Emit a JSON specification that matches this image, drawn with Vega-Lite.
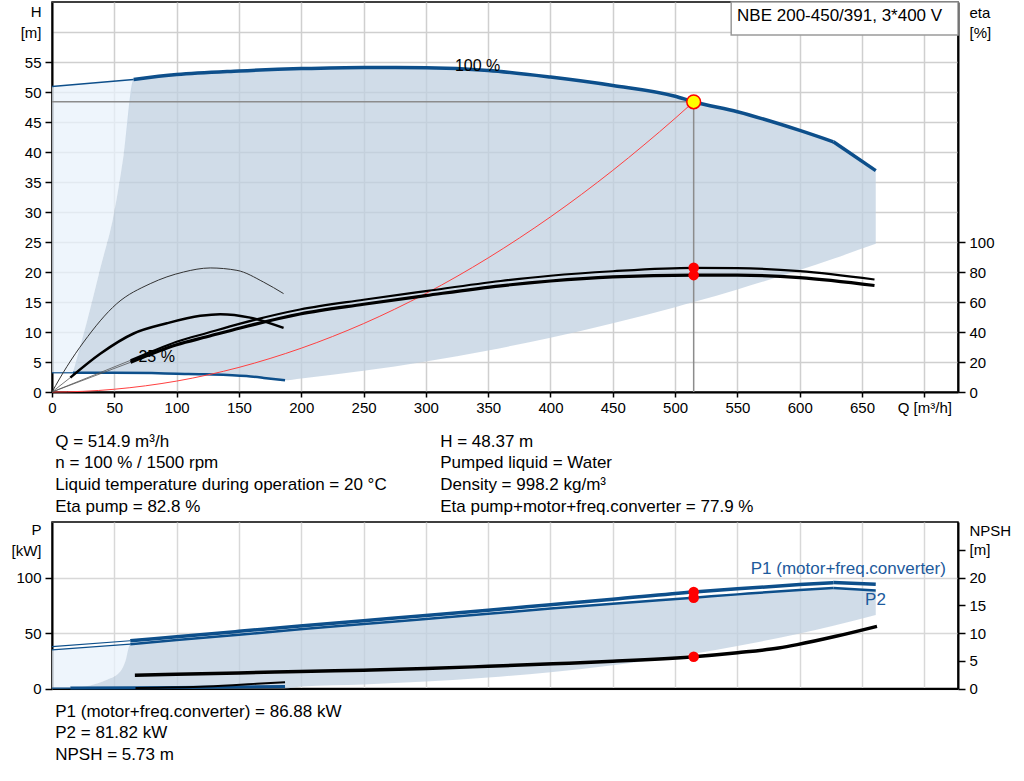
{
  "$schema": "https://vega.github.io/schema/vega-lite/v6.json",
  "padding": {"left": 10, "top": 0, "right": 0, "bottom": 0},
  "autosize": {"type": "pad"},
  "background": "white",
  "bounds": "flush",
  "spacing": 130,
  "config": {
    "font": "Liberation Sans",
    "view": {"stroke": "#000000", "strokeWidth": 1.5},
    "axis": {"labelFont": "Liberation Sans", "labelFontSize": 15, "labelColor": "#000000", "domainColor": "#000000", "domainWidth": 2, "tickColor": "#000000", "tickWidth": 1.5, "gridColor": "#cfcfcf", "gridWidth": 1.5, "title": null, "labelOverlap": false, "labelFlush": false},
    "text": {"font": "Liberation Sans"}
  },
  "datasets": {
    "hLight": [
      {"q": 0, "top": 50.9, "bot": 3.2},
      {"q": 16.8, "top": 51.2, "bot": 3.2},
      {"q": 28, "top": 51.4, "bot": 11.7},
      {"q": 38.7, "top": 51.6, "bot": 20.6},
      {"q": 49.4, "top": 51.8, "bot": 29.4},
      {"q": 57.4, "top": 51.95, "bot": 39.4},
      {"q": 65.5, "top": 52.1, "bot": 52.1}
    ],
    "hArea": [
      {"q": 16.8, "top": 3.2, "bot": 3.2},
      {"q": 28, "top": 11.7, "bot": 3.2},
      {"q": 38.7, "top": 20.6, "bot": 3.2},
      {"q": 49.4, "top": 29.4, "bot": 3.2},
      {"q": 57.4, "top": 39.4, "bot": 3.2},
      {"q": 65.5, "top": 52.1, "bot": 3.2},
      {"q": 100, "top": 52.9, "bot": 3.05},
      {"q": 124, "top": 53.25, "bot": 2.95},
      {"q": 156, "top": 53.55, "bot": 2.65},
      {"q": 170, "top": 53.7, "bot": 2.35},
      {"q": 186, "top": 53.8, "bot": 1.95},
      {"q": 200, "top": 53.9, "bot": 2.26},
      {"q": 250, "top": 54.1, "bot": 3.53},
      {"q": 300, "top": 54.05, "bot": 5.09},
      {"q": 350, "top": 53.6, "bot": 6.92},
      {"q": 400, "top": 52.5, "bot": 9.04},
      {"q": 450, "top": 51.1, "bot": 11.44},
      {"q": 500, "top": 49.3, "bot": 14.13},
      {"q": 514.9, "top": 48.37, "bot": 14.98},
      {"q": 550, "top": 46.7, "bot": 17.09},
      {"q": 600, "top": 43.6, "bot": 20.34},
      {"q": 627, "top": 41.7, "bot": 22.21},
      {"q": 661, "top": 36.9, "bot": 24.69}
    ],
    "hLines": [
      {"s": "h100thin", "q": 0, "h": 50.9},
      {"s": "h100thin", "q": 65.5, "h": 52.1},
      {"s": "h100", "q": 65.5, "h": 52.1},
      {"s": "h100", "q": 100, "h": 52.9},
      {"s": "h100", "q": 150, "h": 53.5},
      {"s": "h100", "q": 200, "h": 53.9},
      {"s": "h100", "q": 250, "h": 54.1},
      {"s": "h100", "q": 300, "h": 54.05},
      {"s": "h100", "q": 350, "h": 53.6},
      {"s": "h100", "q": 400, "h": 52.5},
      {"s": "h100", "q": 450, "h": 51.1},
      {"s": "h100", "q": 500, "h": 49.3},
      {"s": "h100", "q": 514.9, "h": 48.37},
      {"s": "h100", "q": 550, "h": 46.7},
      {"s": "h100", "q": 600, "h": 43.6},
      {"s": "h100", "q": 627, "h": 41.7},
      {"s": "h100end", "q": 627, "h": 41.7},
      {"s": "h100end", "q": 661, "h": 36.9},
      {"s": "h25thin", "q": 0, "h": 3.2},
      {"s": "h25thin", "q": 16.8, "h": 3.2},
      {"s": "h25", "q": 16.8, "h": 3.2},
      {"s": "h25", "q": 50, "h": 3.2},
      {"s": "h25", "q": 80, "h": 3.15},
      {"s": "h25", "q": 100, "h": 3.05},
      {"s": "h25", "q": 124, "h": 2.95},
      {"s": "h25", "q": 156, "h": 2.65},
      {"s": "h25", "q": 170, "h": 2.35},
      {"s": "h25", "q": 187, "h": 1.94},
      {"s": "sys", "q": 0, "h": 0},
      {"s": "sys", "q": 25, "h": 0.11},
      {"s": "sys", "q": 50, "h": 0.46},
      {"s": "sys", "q": 75, "h": 1.03},
      {"s": "sys", "q": 100, "h": 1.82},
      {"s": "sys", "q": 125, "h": 2.85},
      {"s": "sys", "q": 150, "h": 4.1},
      {"s": "sys", "q": 175, "h": 5.59},
      {"s": "sys", "q": 200, "h": 7.3},
      {"s": "sys", "q": 225, "h": 9.24},
      {"s": "sys", "q": 250, "h": 11.4},
      {"s": "sys", "q": 275, "h": 13.8},
      {"s": "sys", "q": 300, "h": 16.42},
      {"s": "sys", "q": 325, "h": 19.27},
      {"s": "sys", "q": 350, "h": 22.35},
      {"s": "sys", "q": 375, "h": 25.66},
      {"s": "sys", "q": 400, "h": 29.19},
      {"s": "sys", "q": 425, "h": 32.95},
      {"s": "sys", "q": 450, "h": 36.94},
      {"s": "sys", "q": 475, "h": 41.17},
      {"s": "sys", "q": 500, "h": 45.61},
      {"s": "sys", "q": 514.9, "h": 48.37}
    ],
    "guides": [
      {"q": 0, "q2": 514.9, "h": 48.37, "h2": 48.37},
      {"q": 514.9, "q2": 514.9, "h": 0, "h2": 48.37}
    ],
    "hLabels": [
      {"q": 341.5, "h": 54.3, "t": "100 %"},
      {"q": 84, "h": 5.8, "t": "25 %"}
    ],
    "box": [
      {"q": 545, "q2": 727, "h": 65, "h2": 59.5}
    ],
    "hNotes": [
      {"q": 549.7, "h": 62.7, "t": "NBE 200-450/391, 3*400 V"},
      {"q": 2.6, "h": -8.33, "t": "Q = 514.9 m³/h"},
      {"q": 2.6, "h": -11.83, "t": "n = 100 % / 1500 rpm"},
      {"q": 2.6, "h": -15.55, "t": "Liquid temperature during operation = 20 °C"},
      {"q": 2.6, "h": -19.17, "t": "Eta pump = 82.8 %"},
      {"q": 311.5, "h": -8.33, "t": "H = 48.37 m"},
      {"q": 311.5, "h": -11.83, "t": "Pumped liquid = Water"},
      {"q": 311.5, "h": -15.55, "t": "Density = 998.2 kg/m³"},
      {"q": 311.5, "h": -19.17, "t": "Eta pump+motor+freq.converter = 77.9 %"}
    ],
    "eLines": [
      {"s": "p100thin", "q": 0, "e": 0},
      {"s": "p100thin", "q": 63, "e": 21.1},
      {"s": "t100thin", "q": 0, "e": 0},
      {"s": "t100thin", "q": 63, "e": 19.8},
      {"s": "t25thin", "q": 0, "e": 0},
      {"s": "t25thin", "q": 14.7, "e": 9.6},
      {"s": "p100", "q": 63, "e": 21.1},
      {"s": "p100", "q": 80, "e": 27},
      {"s": "p100", "q": 100, "e": 33.5},
      {"s": "p100", "q": 125, "e": 39.5},
      {"s": "p100", "q": 151, "e": 45.6},
      {"s": "p100", "q": 199, "e": 55},
      {"s": "p100", "q": 250, "e": 61.5},
      {"s": "p100", "q": 300, "e": 67.3},
      {"s": "p100", "q": 360, "e": 74},
      {"s": "p100", "q": 400, "e": 77.5},
      {"s": "p100", "q": 450, "e": 80.5},
      {"s": "p100", "q": 514.9, "e": 82.8},
      {"s": "p100", "q": 550, "e": 82.6},
      {"s": "p100", "q": 600, "e": 80.6},
      {"s": "p100", "q": 660, "e": 75},
      {"s": "t100", "q": 63, "e": 19.8},
      {"s": "t100", "q": 80, "e": 25.5},
      {"s": "t100", "q": 100, "e": 31.5},
      {"s": "t100", "q": 125, "e": 37},
      {"s": "t100", "q": 151, "e": 42.7},
      {"s": "t100", "q": 199, "e": 52},
      {"s": "t100", "q": 250, "e": 58.5},
      {"s": "t100", "q": 300, "e": 64.3},
      {"s": "t100", "q": 360, "e": 70.8},
      {"s": "t100", "q": 400, "e": 74},
      {"s": "t100", "q": 450, "e": 76.7},
      {"s": "t100", "q": 514.9, "e": 77.9},
      {"s": "t100", "q": 550, "e": 77.9},
      {"s": "t100", "q": 600, "e": 76.3},
      {"s": "t100", "q": 660, "e": 71},
      {"s": "p25", "q": 0, "e": 0},
      {"s": "p25", "q": 12, "e": 17},
      {"s": "p25", "q": 25.4, "e": 33.3},
      {"s": "p25", "q": 52, "e": 58.9},
      {"s": "p25", "q": 78.8, "e": 72.2},
      {"s": "p25", "q": 105.6, "e": 80},
      {"s": "p25", "q": 127, "e": 82.7},
      {"s": "p25", "q": 148.4, "e": 81.1},
      {"s": "p25", "q": 169.7, "e": 73.3},
      {"s": "p25", "q": 185.8, "e": 65.6},
      {"s": "t25", "q": 14.7, "e": 9.6},
      {"s": "t25", "q": 38.7, "e": 25.5},
      {"s": "t25", "q": 65.5, "e": 39},
      {"s": "t25", "q": 92.2, "e": 45.8},
      {"s": "t25", "q": 119, "e": 50.8},
      {"s": "t25", "q": 135, "e": 51.9},
      {"s": "t25", "q": 159, "e": 49.6},
      {"s": "t25", "q": 185.8, "e": 42.7}
    ],
    "eDots": [
      {"q": 514.9, "e": 82.8},
      {"q": 514.9, "e": 77.9}
    ],
    "duty": [
      {"q": 514.9, "h": 48.37}
    ],
    "pLight": [
      {"q": 0, "top": 34.8, "bot": 0},
      {"q": 14.7, "top": 35.7, "bot": 0.3},
      {"q": 30.7, "top": 36.7, "bot": 2.7},
      {"q": 44.1, "top": 37.6, "bot": 7.8},
      {"q": 54.8, "top": 38.5, "bot": 15.3},
      {"q": 58.8, "top": 39.0, "bot": 24.3},
      {"q": 62.8, "top": 39.9, "bot": 39.9}
    ],
    "pArea": [
      {"q": 14.7, "top": 0.3, "bot": 0},
      {"q": 30.7, "top": 2.7, "bot": 0},
      {"q": 44.1, "top": 7.8, "bot": 0},
      {"q": 54.8, "top": 15.3, "bot": 0},
      {"q": 58.8, "top": 24.3, "bot": 0},
      {"q": 62.8, "top": 39.9, "bot": 0},
      {"q": 100, "top": 43.6, "bot": 0},
      {"q": 150, "top": 48.4, "bot": 0},
      {"q": 186, "top": 51.8, "bot": 0},
      {"q": 200, "top": 53.3, "bot": 1.84},
      {"q": 250, "top": 58, "bot": 3.59},
      {"q": 300, "top": 62.6, "bot": 6.2},
      {"q": 350, "top": 67.3, "bot": 9.84},
      {"q": 400, "top": 72, "bot": 14.7},
      {"q": 450, "top": 76.4, "bot": 20.9},
      {"q": 500, "top": 80.5, "bot": 28.7},
      {"q": 514.9, "top": 81.82, "bot": 31.3},
      {"q": 550, "top": 84.8, "bot": 38.2},
      {"q": 600, "top": 88.8, "bot": 49.6},
      {"q": 627, "top": 90.6, "bot": 56.6},
      {"q": 661, "top": 88.2, "bot": 66.3}
    ],
    "pLines": [
      {"s": "p1thin", "q": 0, "p": 37.8},
      {"s": "p1thin", "q": 62.8, "p": 43},
      {"s": "p2thin", "q": 0, "p": 34.8},
      {"s": "p2thin", "q": 62.8, "p": 39.9},
      {"s": "p1", "q": 62.8, "p": 43},
      {"s": "p1", "q": 100, "p": 46.6},
      {"s": "p1", "q": 150, "p": 51.5},
      {"s": "p1", "q": 199, "p": 56.3},
      {"s": "p1", "q": 250, "p": 61.1},
      {"s": "p1", "q": 300, "p": 65.8},
      {"s": "p1", "q": 350, "p": 70.6},
      {"s": "p1", "q": 400, "p": 75.5},
      {"s": "p1", "q": 450, "p": 80.4},
      {"s": "p1", "q": 514.9, "p": 86.88},
      {"s": "p1", "q": 550, "p": 89.8},
      {"s": "p1", "q": 600, "p": 93.6},
      {"s": "p1", "q": 627, "p": 95.4},
      {"s": "p1end", "q": 627, "p": 95.4},
      {"s": "p1end", "q": 661, "p": 94},
      {"s": "p2", "q": 62.8, "p": 39.9},
      {"s": "p2", "q": 100, "p": 43.6},
      {"s": "p2", "q": 150, "p": 48.4},
      {"s": "p2", "q": 199, "p": 53.3},
      {"s": "p2", "q": 250, "p": 58},
      {"s": "p2", "q": 300, "p": 62.6},
      {"s": "p2", "q": 350, "p": 67.3},
      {"s": "p2", "q": 400, "p": 72},
      {"s": "p2", "q": 450, "p": 76.4},
      {"s": "p2", "q": 514.9, "p": 81.82},
      {"s": "p2", "q": 550, "p": 84.8},
      {"s": "p2", "q": 600, "p": 88.8},
      {"s": "p2", "q": 627, "p": 90.6},
      {"s": "p2end", "q": 627, "p": 90.6},
      {"s": "p2end", "q": 661, "p": 88.2},
      {"s": "p25thin", "q": 0, "p": 0.3},
      {"s": "p25thin", "q": 14.7, "p": 0.4},
      {"s": "p25", "q": 14.7, "p": 0.4},
      {"s": "p25", "q": 100, "p": 0.9},
      {"s": "p25", "q": 187, "p": 1.8}
    ],
    "pDots": [
      {"q": 514.9, "p": 86.88},
      {"q": 514.9, "p": 81.82}
    ],
    "pLabels": [
      {"q": 639, "p": 108, "t": "P1 (motor+freq.converter)"},
      {"q": 660.8, "p": 79.3, "t": "P2"}
    ],
    "pNotes": [
      {"q": 2.6, "p": -21.6, "t": "P1 (motor+freq.converter) = 86.88 kW"},
      {"q": 2.6, "p": -40.5, "t": "P2 = 81.82 kW"},
      {"q": 2.6, "p": -59.5, "t": "NPSH = 5.73 m"}
    ],
    "nLines": [
      {"s": "n100", "q": 66.5, "n": 2.4},
      {"s": "n100", "q": 100, "n": 2.55},
      {"s": "n100", "q": 150, "n": 2.8},
      {"s": "n100", "q": 199, "n": 3.06},
      {"s": "n100", "q": 250, "n": 3.3},
      {"s": "n100", "q": 300, "n": 3.6},
      {"s": "n100", "q": 350, "n": 4.0},
      {"s": "n100", "q": 402, "n": 4.45},
      {"s": "n100", "q": 450, "n": 4.9},
      {"s": "n100", "q": 514.9, "n": 5.73},
      {"s": "n100", "q": 550, "n": 6.45},
      {"s": "n100", "q": 583, "n": 7.3},
      {"s": "n100", "q": 598, "n": 7.9},
      {"s": "n100", "q": 629, "n": 9.4},
      {"s": "n100", "q": 662, "n": 11.2},
      {"s": "n25", "q": 67, "n": 0.1},
      {"s": "n25", "q": 124, "n": 0.36},
      {"s": "n25", "q": 164, "n": 0.84},
      {"s": "n25", "q": 187, "n": 1.14}
    ],
    "nDots": [
      {"q": 514.9, "n": 5.73}
    ]
  },
  "vconcat": [
    {
      "width": 906,
      "height": 390,
      "resolve": {"scale": {"y": "independent", "color": "independent", "strokeWidth": "independent"}},
      "layer": [
        {
          "layer": [
            {
              "data": {"name": "hLight"},
              "mark": {"type": "area", "color": "#e8f2fb", "opacity": 0.75, "interpolate": "monotone"},
              "encoding": {
                "x": {"field": "q", "type": "quantitative", "scale": {"domain": [0, 727], "nice": false, "zero": false},
                  "axis": {"values": [0, 50, 100, 150, 200, 250, 300, 350, 400, 450, 500, 550, 600, 650, 700], "tickCount": 40, "labelExpr": "datum.value == 700 ? 'Q [m³/h]' : datum.label", "tickSize": 5, "labelPadding": 3, "grid": true, "labelOverlap": false, "labelFlush": false}},
                "y": {"field": "top", "type": "quantitative", "scale": {"domain": [0, 65], "nice": false, "zero": false},
                  "axis": {"values": [0, 5, 10, 15, 20, 25, 30, 35, 40, 45, 50, 55, 60, 63.5], "tickCount": 40, "labelExpr": "datum.value == 60 ? '[m]' : datum.value > 61 ? 'H' : datum.label", "tickSize": 7, "labelPadding": 4, "grid": true, "labelOverlap": false,
                    "tickColor": {"condition": {"test": "datum.value > 57", "value": "transparent"}, "value": "#000000"},
                    "gridColor": {"condition": {"test": "datum.value > 61", "value": "transparent"}, "value": "#cfcfcf"}}},
                "y2": {"field": "bot"}
              }
            },
            {
              "data": {"name": "hArea"},
              "mark": {"type": "area", "color": "#c0d0e0", "opacity": 0.75, "interpolate": "monotone"},
              "encoding": {
                "x": {"field": "q", "type": "quantitative"},
                "y": {"field": "top", "type": "quantitative"},
                "y2": {"field": "bot"}
              }
            },
            {
              "data": {"name": "guides"},
              "mark": {"type": "rule", "color": "#8c8c8c", "strokeWidth": 1.5},
              "encoding": {
                "x": {"field": "q", "type": "quantitative"},
                "x2": {"field": "q2"},
                "y": {"field": "h", "type": "quantitative"},
                "y2": {"field": "h2"}
              }
            },
            {
              "data": {"name": "hLines"},
              "mark": {"type": "line", "interpolate": "monotone"},
              "encoding": {
                "x": {"field": "q", "type": "quantitative"},
                "y": {"field": "h", "type": "quantitative"},
                "color": {"field": "s", "type": "nominal", "legend": null, "scale": {"type": "ordinal", "domain": ["h100thin", "h100", "h100end", "h25thin", "h25", "sys"], "range": ["#0d4f8b", "#0d4f8b", "#0d4f8b", "#0d4f8b", "#0d4f8b", "#ff4040"]}},
                "strokeWidth": {"field": "s", "type": "nominal", "legend": null, "scale": {"type": "ordinal", "domain": ["h100thin", "h100", "h100end", "h25thin", "h25", "sys"], "range": [1.5, 3.5, 3.5, 1.2, 2.5, 1]}}
              }
            },
            {
              "data": {"name": "hLabels"},
              "mark": {"type": "text", "fontSize": 16, "color": "#000000", "baseline": "middle", "align": "center"},
              "encoding": {
                "x": {"field": "q", "type": "quantitative"},
                "y": {"field": "h", "type": "quantitative"},
                "text": {"field": "t"}
              }
            },
            {
              "data": {"name": "box"},
              "mark": {"type": "rect", "fill": "#ffffff", "stroke": "#9a9a9a", "strokeWidth": 1.5},
              "encoding": {
                "x": {"field": "q", "type": "quantitative"},
                "x2": {"field": "q2"},
                "y": {"field": "h", "type": "quantitative"},
                "y2": {"field": "h2"}
              }
            },
            {
              "data": {"name": "hNotes"},
              "mark": {"type": "text", "fontSize": 17, "color": "#000000", "baseline": "middle", "align": "left"},
              "encoding": {
                "x": {"field": "q", "type": "quantitative"},
                "y": {"field": "h", "type": "quantitative"},
                "text": {"field": "t"}
              }
            }
          ]
        },
        {
          "layer": [
            {
              "data": {"name": "eLines"},
              "mark": {"type": "line", "interpolate": "monotone"},
              "encoding": {
                "x": {"field": "q", "type": "quantitative"},
                "y": {"field": "e", "type": "quantitative", "scale": {"domain": [0, 260], "nice": false, "zero": false},
                  "axis": {"orient": "right", "values": [0, 20, 40, 60, 80, 100, 240, 253], "tickCount": 40, "labelExpr": "datum.value == 240 ? '[%]' : datum.value > 245 ? 'eta' : datum.label", "grid": false, "tickSize": 7, "labelPadding": 4, "labelOverlap": false,
                    "tickColor": {"condition": {"test": "datum.value > 101", "value": "transparent"}, "value": "#000000"}}},
                "color": {"field": "s", "type": "nominal", "legend": null, "scale": {"type": "ordinal", "domain": ["p100thin", "t100thin", "t25thin", "p100", "t100", "p25", "t25"], "range": ["#555555", "#555555", "#555555", "#000000", "#000000", "#333333", "#000000"]}},
                "strokeWidth": {"field": "s", "type": "nominal", "legend": null, "scale": {"type": "ordinal", "domain": ["p100thin", "t100thin", "t25thin", "p100", "t100", "p25", "t25"], "range": [0.8, 0.8, 0.8, 2.2, 3.2, 1, 2.5]}}
              }
            },
            {
              "data": {"name": "eDots"},
              "mark": {"type": "point", "filled": true, "shape": "circle", "color": "#ff0000", "size": 110, "opacity": 1},
              "encoding": {
                "x": {"field": "q", "type": "quantitative"},
                "y": {"field": "e", "type": "quantitative"}
              }
            }
          ]
        },
        {
          "layer": [
            {
              "data": {"name": "duty"},
              "mark": {"type": "point", "filled": true, "shape": "circle", "fill": "#ffff00", "stroke": "#ff0000", "strokeWidth": 1.5, "size": 190, "opacity": 1},
              "encoding": {
                "x": {"field": "q", "type": "quantitative"},
                "y": {"field": "h", "type": "quantitative", "scale": {"domain": [0, 65], "nice": false, "zero": false}, "axis": null}
              }
            }
          ]
        }
      ]
    },
    {
      "width": 906,
      "height": 166.5,
      "resolve": {"scale": {"y": "independent", "color": "independent", "strokeWidth": "independent"}},
      "layer": [
        {
          "layer": [
            {
              "data": {"name": "pLight"},
              "mark": {"type": "area", "color": "#e8f2fb", "opacity": 0.75, "interpolate": "monotone"},
              "encoding": {
                "x": {"field": "q", "type": "quantitative", "scale": {"domain": [0, 727], "nice": false, "zero": false},
                  "axis": {"values": [0, 50, 100, 150, 200, 250, 300, 350, 400, 450, 500, 550, 600, 650, 700], "tickCount": 40, "labels": false, "ticks": false, "grid": true, "gridColor": "#d8d8d8"}},
                "y": {"field": "top", "type": "quantitative", "scale": {"domain": [0, 150], "nice": false, "zero": false},
                  "axis": {"values": [0, 50, 100, 124, 143], "tickCount": 40, "labelExpr": "datum.value == 124 ? '[kW]' : datum.value > 130 ? 'P' : datum.label", "tickSize": 7, "labelPadding": 4, "grid": true, "labelOverlap": false,
                    "tickColor": {"condition": {"test": "datum.value > 101", "value": "transparent"}, "value": "#000000"},
                    "gridColor": {"condition": {"test": "datum.value > 101", "value": "transparent"}, "value": "#d8d8d8"}}},
                "y2": {"field": "bot"}
              }
            },
            {
              "data": {"name": "pArea"},
              "mark": {"type": "area", "color": "#c0d0e0", "opacity": 0.75, "interpolate": "monotone"},
              "encoding": {
                "x": {"field": "q", "type": "quantitative"},
                "y": {"field": "top", "type": "quantitative"},
                "y2": {"field": "bot"}
              }
            },
            {
              "data": {"name": "pLines"},
              "mark": {"type": "line", "color": "#0d4f8b", "interpolate": "monotone"},
              "encoding": {
                "x": {"field": "q", "type": "quantitative"},
                "y": {"field": "p", "type": "quantitative"},
                "detail": {"field": "s", "type": "nominal"},
                "strokeWidth": {"field": "s", "type": "nominal", "legend": null, "scale": {"type": "ordinal", "domain": ["p1thin", "p2thin", "p1", "p1end", "p2", "p2end", "p25thin", "p25"], "range": [1.2, 1.2, 3.5, 3.5, 2.5, 2.5, 1.2, 3]}}
              }
            },
            {
              "data": {"name": "pDots"},
              "mark": {"type": "point", "filled": true, "shape": "circle", "color": "#ff0000", "size": 110, "opacity": 1},
              "encoding": {
                "x": {"field": "q", "type": "quantitative"},
                "y": {"field": "p", "type": "quantitative"}
              }
            },
            {
              "data": {"name": "pLabels"},
              "mark": {"type": "text", "fontSize": 17, "color": "#1d5a9c", "baseline": "middle", "align": "center"},
              "encoding": {
                "x": {"field": "q", "type": "quantitative"},
                "y": {"field": "p", "type": "quantitative"},
                "text": {"field": "t"}
              }
            },
            {
              "data": {"name": "pNotes"},
              "mark": {"type": "text", "fontSize": 17, "color": "#000000", "baseline": "middle", "align": "left"},
              "encoding": {
                "x": {"field": "q", "type": "quantitative"},
                "y": {"field": "p", "type": "quantitative"},
                "text": {"field": "t"}
              }
            }
          ]
        },
        {
          "layer": [
            {
              "data": {"name": "nLines"},
              "mark": {"type": "line", "interpolate": "monotone", "color": "#000000"},
              "encoding": {
                "x": {"field": "q", "type": "quantitative"},
                "y": {"field": "n", "type": "quantitative", "scale": {"domain": [0, 30], "nice": false, "zero": false},
                  "axis": {"orient": "right", "values": [0, 5, 10, 15, 20, 25, 28.5], "tickCount": 40, "labelExpr": "datum.value == 25 ? '[m]' : datum.value > 27 ? 'NPSH' : datum.label", "grid": false, "tickSize": 7, "labelPadding": 4, "labelOverlap": false,
                    "tickColor": {"condition": {"test": "datum.value > 26", "value": "transparent"}, "value": "#000000"}}},
                "detail": {"field": "s", "type": "nominal"},
                "strokeWidth": {"field": "s", "type": "nominal", "legend": null, "scale": {"type": "ordinal", "domain": ["n100", "n25"], "range": [3.5, 2]}}
              }
            },
            {
              "data": {"name": "nDots"},
              "mark": {"type": "point", "filled": true, "shape": "circle", "color": "#ff0000", "size": 110, "opacity": 1},
              "encoding": {
                "x": {"field": "q", "type": "quantitative"},
                "y": {"field": "n", "type": "quantitative"}
              }
            }
          ]
        }
      ]
    }
  ]
}
